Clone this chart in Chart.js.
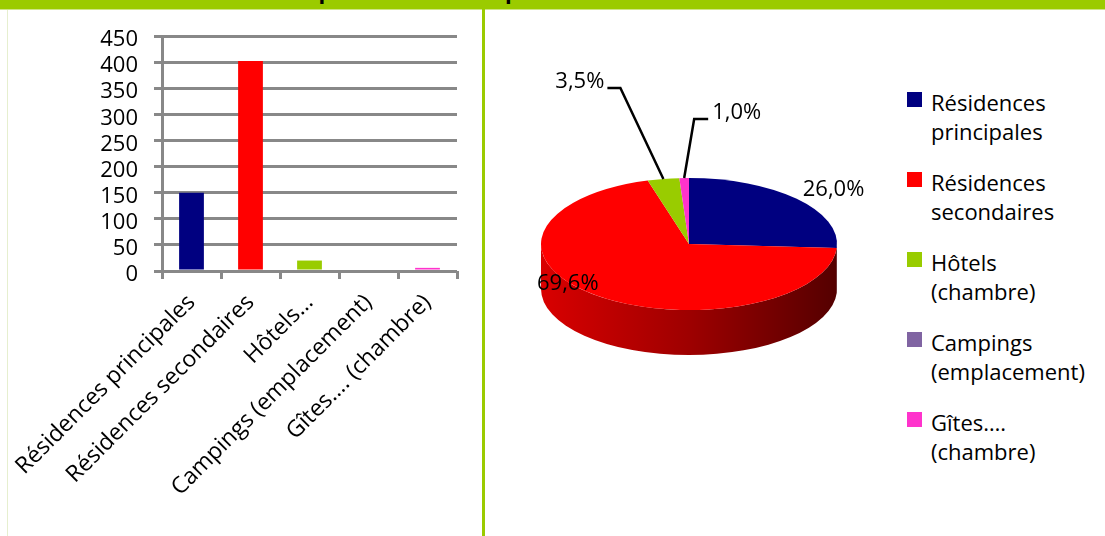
<!DOCTYPE html>
<html lang="fr">
<head>
<meta charset="utf-8">
<script src="https://cdn.jsdelivr.net/npm/chart.js@4.4.1/dist/chart.umd.min.js"></script>
<style>
  body { margin: 0; background: #fff; font-family: 'Open Sans', sans-serif; }
  #page { position: relative; width: 1105px; height: 536px; overflow: hidden; background: #fff; }
  #band { position: absolute; left: 0; top: 0; width: 1105px; height: 9px; background: #9bcb00; border-bottom: 1px solid #cfe588; }
  #title { position: absolute; left: 0; top: -25px; width: 1140px; text-align: center; font-weight: bold; font-size: 22px; line-height: 30px; color: #000; white-space: nowrap; }
  #edge { position: absolute; left: 7px; top: 10px; width: 1px; height: 526px; background: #e6efcf; }
  #sep { position: absolute; left: 482px; top: 9px; width: 3px; height: 527px; background: #9bcb00; }
  #barChart { position: absolute; left: 0; top: 0; }
  #pieChart { position: absolute; left: 486px; top: 0; }
  #legend { position: absolute; left: 907px; top: 0; }
  .item { position: absolute; left: 0; width: 190px; }
  .box { position: absolute; left: 0; top: 0; width: 15px; height: 15px; }
  .txt { position: absolute; left: 24px; top: -4px; font-size: 22px; line-height: 29px; color: #000; white-space: nowrap; }
</style>
</head>
<body>
<div id="page">
  <div id="band"></div>
  <div id="title">Répartition de la capacité d'accueil de la commune</div>
  <div id="edge"></div>
  <div id="sep"></div>
  <canvas id="barChart" width="480" height="536"></canvas>
  <canvas id="pieChart" width="420" height="488"></canvas>
  <div id="legend"></div>
</div>
<script>
// data
const barLabels = ['Résidences principales', 'Résidences secondaires', 'Hôtels…', 'Campings (emplacement)', 'Gîtes…. (chambre)'];
const pieLabels = [['Résidences', 'principales'], ['Résidences', 'secondaires'], ['Hôtels', '(chambre)'], ['Campings', '(emplacement)'], ['Gîtes….', '(chambre)']];
const capacity = [150, 402, 20, 0, 6];
const yTicks = [0, 450, 50]; // min, max, step

const colors = ['#000080', '#ff0000', '#99cc00', '#8064a2', '#ff33cc'];
const gridGray = '#888888';

Chart.defaults.font.family = "'Open Sans', sans-serif";
Chart.defaults.font.size = 22;
Chart.defaults.color = '#000';

// bar chart
new Chart(document.getElementById('barChart'), {
    type: 'bar',
    data: {
        labels: barLabels,
        datasets: [{
            data: capacity,
            backgroundColor: colors,
            barPercentage: 0.42,
            categoryPercentage: 1
        }]
    },
    options: {
        responsive: false,
        animation: false,
        layout: { padding: { left: 100, top: 36, right: 23, bottom: 0 } },
        plugins: {
            legend: { display: false },
            tooltip: { enabled: false }
        },
        scales: {
            x: {
                offset: true,
                grid: { offset: true, drawOnChartArea: false, tickLength: 8, color: gridGray, lineWidth: 3 },
                border: { display: false },
                ticks: { minRotation: 45, maxRotation: 45, autoSkip: false, padding: 10, font: { size: 23 } },
                // rotated labels may hang out to the left, keep the plot where it is
                afterFit: s => { s.height = 265; s.paddingLeft = 0; }
            },
            y: {
                min: yTicks[0],
                max: yTicks[1],
                grid: { color: gridGray, lineWidth: 3, tickLength: 8 },
                border: { color: gridGray, width: 3 },
                ticks: { stepSize: yTicks[2], autoSkip: false, padding: 16, labelOffset: 4 },
                afterFit: s => { s.width = 62; }
            }
        }
    }
});

// pie chart, flattened with a drawn side to look 3D
const tilt = 0.446;
const depth = 45;
// where each percentage goes, relative to the slice's outer edge point
const labelSpots = [
    { dx: 6, dy: -9, align: 'left' },
    { dx: 2, dy: -12, align: 'right' },
    { dx: -59, dy: -97, align: 'right', leader: [-43, -91, -13] },
    null,
    { dx: 28, dy: -65, align: 'left', leader: [10, -59, 14] }
];

function shade(hex, f) {
    const n = parseInt(hex.slice(1), 16);
    const r = Math.round(((n >> 16) & 255) * f), g = Math.round(((n >> 8) & 255) * f), b = Math.round((n & 255) * f);
    return `rgb(${r},${g},${b})`;
}

const pie3d = {
    id: 'pie3d',
    beforeDatasetsDraw(chart) {
        const ctx = chart.ctx;
        const arcs = chart.getDatasetMeta(0).data;
        const cx = arcs[0].x, cy = arcs[0].y, r = arcs[0].outerRadius, ry = r * tilt;
        arcs.forEach((arc, i) => {
            if (!capacity[i]) return;
            const s = Math.max(arc.startAngle, 0), e = Math.min(arc.endAngle, Math.PI);
            if (e <= s) return;
            const g = ctx.createLinearGradient(cx - r, 0, cx + r, 0);
            g.addColorStop(0, shade(colors[i], 0.85));
            g.addColorStop(0.5, shade(colors[i], 0.62));
            g.addColorStop(1, shade(colors[i], 0.33));
            ctx.beginPath();
            ctx.ellipse(cx, cy, r, ry, 0, s, e);
            ctx.ellipse(cx, cy + depth, r, ry, 0, e, s, true);
            ctx.closePath();
            ctx.fillStyle = g;
            ctx.fill();
        });
        ctx.save();
        ctx.translate(cx, cy);
        ctx.scale(1, tilt);
        ctx.translate(-cx, -cy);
    },
    afterDatasetsDraw(chart) {
        const ctx = chart.ctx;
        ctx.restore();
        const arcs = chart.getDatasetMeta(0).data;
        const total = capacity.reduce((a, b) => a + b, 0);
        ctx.save();
        ctx.font = "22px 'Open Sans', sans-serif";
        ctx.fillStyle = '#000';
        ctx.strokeStyle = '#000';
        ctx.lineWidth = 2.5;
        ctx.textBaseline = 'middle';
        arcs.forEach((arc, i) => {
            const spot = labelSpots[i];
            if (!capacity[i] || !spot) return;
            const mid = (arc.startAngle + arc.endAngle) / 2;
            const ex = arc.x + arc.outerRadius * Math.cos(mid);
            const ey = arc.y + arc.outerRadius * tilt * Math.sin(mid);
            if (spot.leader) {
                const [lx, ly, lh] = spot.leader;
                ctx.beginPath();
                ctx.moveTo(ex, ey);
                ctx.lineTo(ex + lx, ey + ly);
                ctx.lineTo(ex + lx + lh, ey + ly);
                ctx.stroke();
            }
            ctx.textAlign = spot.align;
            const pct = (capacity[i] / total * 100).toFixed(1).replace('.', ',') + '%';
            ctx.fillText(pct, ex + spot.dx, ey + spot.dy);
        });
        ctx.restore();
    }
};

new Chart(document.getElementById('pieChart'), {
    type: 'pie',
    data: {
        labels: pieLabels,
        datasets: [{
            data: capacity,
            backgroundColor: colors,
            borderWidth: 0
        }]
    },
    options: {
        responsive: false,
        animation: false,
        layout: { padding: { left: 55, right: 69, top: 96, bottom: 96 } },
        plugins: {
            legend: { display: false },
            tooltip: { enabled: false }
        }
    },
    plugins: [pie3d]
});

// legend, two lines per entry
const legend = document.getElementById('legend');
pieLabels.forEach((lines, i) => {
    const item = document.createElement('div');
    item.className = 'item';
    item.style.top = (92 + i * 80) + 'px';
    item.innerHTML = `<div class="box" style="background:${colors[i]}"></div><div class="txt">${lines.join('<br>')}</div>`;
    legend.appendChild(item);
});
</script>
</body>
</html>
